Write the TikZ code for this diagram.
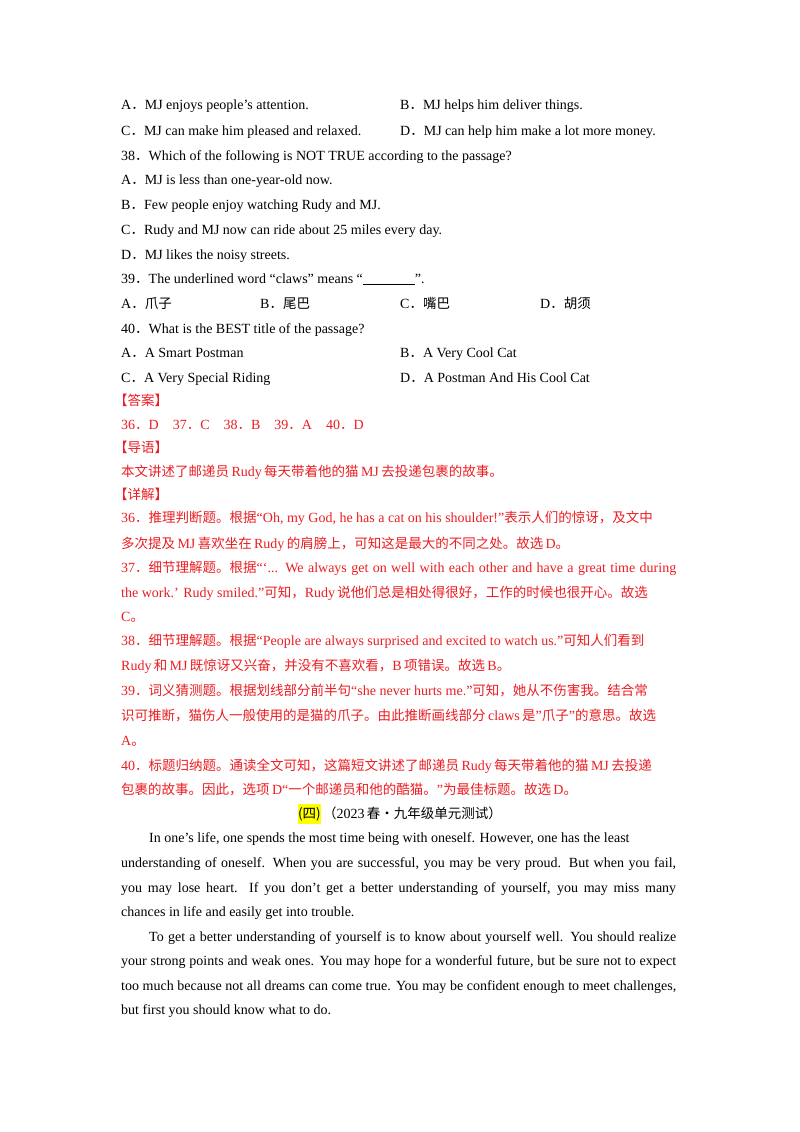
\documentclass[tikz,border=0pt]{standalone}
\usepackage{fontspec}
\setmainfont{Liberation Serif}
\newfontfamily\cjk{Noto Sans CJK SC}
\newcommand{\zh}[1]{{\cjk\fontsize{13.5}{16}\selectfont #1}}
\newcommand{\dt}{\zh{．}}
\definecolor{ansred}{RGB}{235,30,35}
\definecolor{hlyellow}{RGB}{255,255,0}
\newcommand{\fullline}[1]{\makebox[555pt][s]{#1}}
\begin{document}
\begin{tikzpicture}[x=1pt,y=-1pt,
% common options for text lines:
line/.style = {anchor=base west, inner sep=0, font=\fontsize{14}{17}\selectfont},
redline/.style = {line, text=ansred}]
\fill[white] (0,0) rectangle (800,1132);
% questions
\node[line] (q37a) at (121,109) {A\dt MJ enjoys people’s attention.};
\node[line] (q37b) at (400,109) {B\dt MJ helps him deliver things.};
\node[line] (q37c) at (121,135) {C\dt MJ can make him pleased and relaxed.};
\node[line] (q37d) at (400,135) {D\dt MJ can help him make a lot more money.};
\node[line] (q38) at (121,160) {38\dt Which of the following is NOT TRUE according to the passage?};
\node[line] (q38a) at (121,184) {A\dt MJ is less than one-year-old now.};
\node[line] (q38b) at (121,209) {B\dt Few people enjoy watching Rudy and MJ.};
\node[line] (q38c) at (121,234) {C\dt Rudy and MJ now can ride about 25 miles every day.};
\node[line] (q38d) at (121,259) {D\dt MJ likes the noisy streets.};
\node[line] (q39) at (121,283) {39\dt The underlined word “claws” means “\underline{\hspace{52pt}}”.};
\node[line] (q39a) at (121,308) {A\dt\zh{爪子}};
\node[line] (q39b) at (260,308) {B\dt\zh{尾巴}};
\node[line] (q39c) at (400,308) {C\dt\zh{嘴巴}};
\node[line] (q39d) at (540,308) {D\dt\zh{胡须}};
\node[line] (q40) at (121,333) {40\dt What is the BEST title of the passage?};
\node[line] (q40a) at (121,357) {A\dt A Smart Postman};
\node[line] (q40b) at (400,357) {B\dt A Very Cool Cat};
\node[line] (q40c) at (121,382) {C\dt A Very Special Riding};
\node[line] (q40d) at (400,382) {D\dt A Postman And His Cool Cat};
% answers
\node[redline] (ans) at (114,405) {\zh{【答案】}};
\node[redline] (key) at (121,429) {36\dt D\quad 37\dt C\quad 38\dt B\quad 39\dt A\quad 40\dt D};
\node[redline] (lead) at (114,452) {\zh{【导语】}};
\node[redline] (leadtxt) at (121,476) {\zh{本文讲述了邮递员}\,Rudy\,\zh{每天带着他的猫}\,MJ\,\zh{去投递包裹的故事。}};
\node[redline] (detail) at (114,499) {\zh{【详解】}};
\node[redline] (d36a) at (121,522) {36\dt\zh{推理判断题。根据}“Oh, my God, he has a cat on his shoulder!”\zh{表示人们的惊讶，及文中}};
\node[redline] (d36b) at (121,548) {\zh{多次提及}\,MJ\,\zh{喜欢坐在}\,Rudy\,\zh{的肩膀上，可知这是最大的不同之处。故选}\,D\zh{。}};
\node[redline] (d37a) at (121,572) {\fullline{37\dt\zh{细节理解题。根据}“‘... We always get on well with each other and have a great time during}};
\node[redline] (d37b) at (121,597) {the work.’ Rudy smiled.”\zh{可知，}Rudy\,\zh{说他们总是相处得很好，工作的时候也很开心。故选}};
\node[redline] (d37c) at (121,621) {C\zh{。}};
\node[redline] (d38a) at (121,645) {38\dt\zh{细节理解题。根据}“People are always surprised and excited to watch us.”\zh{可知人们看到}};
\node[redline] (d38b) at (121,670) {Rudy\,\zh{和}\,MJ\,\zh{既惊讶又兴奋，并没有不喜欢看，}B\,\zh{项错误。故选}\,B\zh{。}};
\node[redline] (d39a) at (121,695) {39\dt\zh{词义猜测题。根据划线部分前半句}“she never hurts me.”\zh{可知，她从不伤害我。结合常}};
\node[redline] (d39b) at (121,720) {\fullline{\zh{识可推断，猫伤人一般使用的是猫的爪子。由此推断画线部分}\,claws\,\zh{是}"\zh{爪子}"\zh{的意思。故选}}};
\node[redline] (d39c) at (121,745) {A\zh{。}};
\node[redline] (d40a) at (121,770) {\fullline{40\dt\zh{标题归纳题。通读全文可知，这篇短文讲述了邮递员}\,Rudy\,\zh{每天带着他的猫}\,MJ\,\zh{去投递}}};
\node[redline] (d40b) at (121,794) {\zh{包裹的故事。因此，选项}\,D“\zh{一个邮递员和他的酷猫。}"\zh{为最佳标题。故选}\,D\zh{。}};
% next passage
\node[line, anchor=base] (part) at (400,818) {\colorbox{hlyellow}{\hspace{-3pt}\zh{(四)}\hspace{-3pt}}\,\zh{（}2023\,\zh{春·九年级单元测试）}};
\node[line] (p1a) at (149,842) {In one’s life, one spends the most time being with oneself. However, one has the least};
\node[line] (p1b) at (121,867) {\fullline{understanding of oneself. When you are successful, you may be very proud. But when you fail,}};
\node[line] (p1c) at (121,892) {\fullline{you may lose heart. If you don’t get a better understanding of yourself, you may miss many}};
\node[line] (p1d) at (121,916) {chances in life and easily get into trouble.};
\node[line] (p2a) at (149,941) {\makebox[527pt][s]{To get a better understanding of yourself is to know about yourself well. You should realize}};
\node[line] (p2b) at (121,965) {\fullline{your strong points and weak ones. You may hope for a wonderful future, but be sure not to expect}};
\node[line] (p2c) at (121,990) {\fullline{too much because not all dreams can come true. You may be confident enough to meet challenges,}};
\node[line] (p2d) at (121,1014) {but first you should know what to do.};
\end{tikzpicture}
\end{document}
